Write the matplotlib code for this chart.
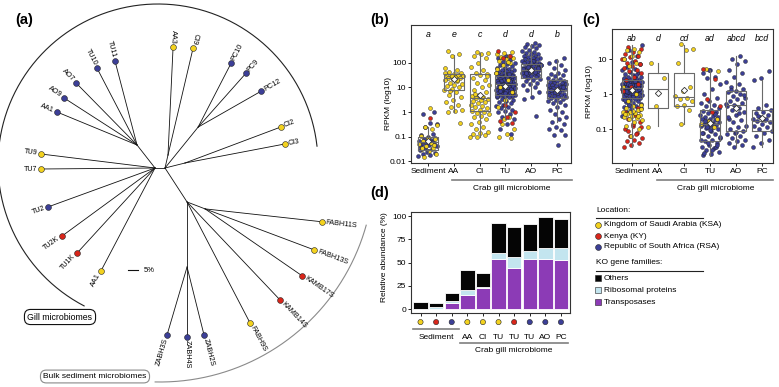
import numpy as np
import matplotlib.pyplot as plt
from matplotlib.ticker import NullLocator

plt.rcParams['font.family'] = ['Liberation Sans', 'DejaVu Sans']

W, H = 779, 387
fs = 6

# colours
loc_col = {'KSA': '#F3D21F', 'KY': '#D8261B', 'RSA': '#3C3F97'}
loc_names = ['Kingdom of Saudi Arabia (KSA)', 'Kenya (KY)', 'Republic of South Africa (RSA)']
loc_keys = ['KSA', 'KY', 'RSA']
fam_names = ['Others', 'Ribosomal proteins', 'Transposases']
fam_col = ['#050505', '#C3E5EF', '#8C3BB6']

# ---------------- tree (a): branch length (px) and direction (deg) ----------------
node_id = ['R', 'N1', 'AC', 'CIn', 'N3', 'N5', 'S1', 'Z',
           'AA1b', 'AO9', 'AO7', 'TU10', 'TU11', 'TU9', 'TU7', 'TU2', 'TU2K', 'TU1K', 'AA1y',
           'AA3', 'CI9', 'PC10', 'PC9', 'PC12', 'CI2', 'CI3',
           'FABH9S', 'KAMB14S', 'KAMB17S', 'FABH13S', 'FABH11S', 'ZABH3S', 'ZABH4S', 'ZABH2S']
node_parent = ['L', 'L', 'R', 'R', 'R', 'R', 'N5', 'N5',
               'N1', 'N1', 'N1', 'N1', 'N1', 'L', 'L', 'L', 'L', 'L', 'L',
               'AC', 'AC', 'N3', 'N3', 'N3', 'CIn', 'CIn',
               'N5', 'N5', 'S1', 'S1', 'S1', 'Z', 'Z', 'Z']
node_len = [10, 29.2, 13.3, 20.6, 52.6, 40.5, 19.3, 65,
            86.5, 86.8, 87, 86.8, 86.8, 114.9, 114, 113.9, 115.2, 115.4, 116.3,
            108.1, 109.9, 72, 72.2, 72.6, 102.5, 101.8,
            136.4, 135.1, 117.9, 116.5, 117.7, 70.9, 70, 70.1]
node_angle = [0, 128, 77, 14, 51, -57, -21, -90,
              157.6, 147.2, 134.5, 117.5, 104.7, 173, 180.5, 200, 216.2, 227.5, 242.3,
              87.3, 76.8, 62.7, 48.4, 29.7, 20.6, 10.8,
              -62.5, -46.5, -34.6, -20.6, -6.3, -106.4, -90, -76]
tip_label = {'AA1b': 'AA1', 'AA1y': 'AA1'}
tip_loc = {'AA1b': 'RSA', 'AO9': 'RSA', 'AO7': 'RSA', 'TU10': 'RSA', 'TU11': 'RSA',
           'TU9': 'KSA', 'TU7': 'KSA', 'TU2': 'RSA', 'TU2K': 'KY', 'TU1K': 'KY', 'AA1y': 'KSA',
           'AA3': 'KSA', 'CI9': 'KSA', 'PC10': 'RSA', 'PC9': 'RSA', 'PC12': 'RSA',
           'CI2': 'KSA', 'CI3': 'KSA', 'FABH9S': 'KSA', 'KAMB14S': 'KY', 'KAMB17S': 'KY',
           'FABH13S': 'KSA', 'FABH11S': 'KSA', 'ZABH3S': 'RSA', 'ZABH4S': 'RSA', 'ZABH2S': 'RSA'}

# ---------------- (b) RPKM, log10 values ----------------
cats = ['Sediment', 'AA', 'CI', 'TU', 'AO', 'PC']
sed_b_rsa = [-1.8, -1.75, -1.7, -1.66, -1.6, -1.55, -1.5, -1.46, -1.4, -1.36, -1.3, -1.28, -1.25,
             -1.2, -1.15, -1.1, -1.05, -1.0, -0.95, -0.9, -0.6, -0.5, -0.45, -0.1, 0.0, -1.62, -1.38, -1.22]
sed_b_ksa = [-1.82, -1.7, -1.6, -1.52, -1.45, -1.4, -1.32, -1.25, -1.18, -1.12, -1.05, -0.98,
             -0.7, -0.62, -0.55, 0.15, -1.48, -1.35]
sed_b_ky = [-0.25]
aa_b = [2.48, 2.35, 2.3, 1.8, 1.7, 1.62, 1.58, 1.55, 1.52, 1.5, 1.48, 1.45, 1.42, 1.4, 1.38, 1.35,
        1.3, 1.25, 1.2, 1.15, 1.1, 1.05, 1.0, 0.95, 0.9, 0.8, 0.7, 0.6, 0.5, 0.4, 0.3, 0.2, 0.1,
        0.05, 0.0, -0.45, 1.45, 1.6, 1.32, 0.85]
ci_b = [2.45, 2.4, 2.38, 2.3, 2.2, 2.0, 1.85, 1.7, 1.6, 1.55, 1.5, 1.4, 1.3, 1.2, 1.1, 1.0, 0.9,
        0.8, 0.7, 0.65, 0.6, 0.58, 0.55, 0.5, 0.45, 0.4, 0.35, 0.3, 0.25, 0.2, 0.15, 0.1, 0.05,
        0.0, -0.05, -0.1, -0.15, -0.2, -0.3, -0.4, -0.5, -0.6, -0.7, -0.8, -0.85, -0.9, -0.95,
        -1.0, -1.0, 0.62, 0.75, 1.45]
tu_b_rsa = [2.3, 2.2, 2.12, 2.05, 2.0, 1.95, 1.9, 1.86, 1.8, 1.78, 1.74, 1.72, 1.7, 1.67, 1.65,
            1.62, 1.6, 1.58, 1.55, 1.53, 1.5, 1.48, 1.46, 1.43, 1.42, 1.4, 1.38, 1.36, 1.33, 1.32,
            1.3, 1.28, 1.26, 1.24, 1.21, 1.2, 1.18, 1.16, 1.14, 1.12, 1.1, 1.08, 1.06, 1.04, 1.02,
            1.0, 0.98, 0.96, 0.94, 0.92, 0.9, 0.88, 0.86, 0.84, 0.82, 0.8, 0.78, 0.76, 0.74, 0.71,
            0.7, 0.68, 0.66, 0.63, 0.62, 0.6, 0.55, 0.5, 0.46, 0.4, 0.35, 0.3, 0.25, 0.2, 0.15,
            0.1, 0.04, 0.0, -0.1, -0.2, -0.3, -0.5, -0.7, -0.9, 1.15, 1.25, 1.35, 0.95, 1.05, 0.85,
            1.17, 1.27, 1.07, 0.97, 1.37, 0.87, 1.47, 0.77, 0.67, 1.57]
tu_b_ksa = [2.45, 2.4, 2.35, 2.3, 2.25, 2.2, 2.15, 2.1, 2.0, 1.9, 1.6, 1.3, 1.0, 0.8, 0.5, 0.2,
            -0.2, -0.5, -0.7, -0.9, -1.0, -1.05, -0.3, 1.75, 2.05]
tu_b_ky = [2.5, 2.3, 2.2, 0.0, -0.2, -0.35, -0.45, 0.3]
ao_b = [2.8, 2.78, 2.75, 2.7, 2.65, 2.6, 2.55, 2.5, 2.45, 2.4, 2.38, 2.35, 2.3, 2.28, 2.25, 2.22,
        2.2, 2.18, 2.15, 2.12, 2.1, 2.08, 2.05, 2.02, 2.0, 1.98, 1.95, 1.92, 1.9, 1.88, 1.85, 1.82,
        1.8, 1.78, 1.75, 1.72, 1.7, 1.68, 1.65, 1.62, 1.6, 1.58, 1.55, 1.52, 1.5, 1.48, 1.45, 1.42,
        1.4, 1.35, 1.3, 1.25, 1.2, 1.15, 1.1, 1.0, 0.9, 0.8, 0.6, 0.55, -0.15, 1.7, 1.9, 2.1, 1.6,
        1.8, 2.0, 1.75, 1.65, 1.85]
pc_b = [2.2, 2.1, 2.0, 1.9, 1.8, 1.7, 1.6, 1.55, 1.5, 1.45, 1.4, 1.35, 1.3, 1.28, 1.25, 1.22, 1.2,
        1.18, 1.15, 1.12, 1.1, 1.08, 1.05, 1.02, 1.0, 0.98, 0.95, 0.92, 0.9, 0.88, 0.85, 0.82, 0.8,
        0.78, 0.75, 0.72, 0.7, 0.68, 0.65, 0.62, 0.6, 0.58, 0.55, 0.5, 0.45, 0.4, 0.35, 0.3, 0.2,
        0.1, 0.0, -0.1, -0.2, -0.3, -0.4, -0.5, -0.6, -0.7, -0.75, -0.95, -0.95, -1.35, 0.9, 1.0,
        0.8, 1.1]
b_q1 = [0.027, 8, 1.1, 5, 25, 3.8]
b_med = [0.06, 25, 3.8, 14, 50, 8]
b_q3 = [0.1, 35, 35, 30, 95, 20]
b_lo = [0.016, 1.0, 0.1, 0.5, 5, 0.4]
b_hi = [0.25, 220, 250, 150, 600, 150]
b_mean = [0.065, 22, 5, 12, 50, 8]
b_letters = ['a', 'e', 'c', 'd', 'd', 'b']

# ---------------- (c) RPKM, log10 values ----------------
sed_c_rsa = [-0.62, -0.55, -0.5, -0.45, -0.42, -0.38, -0.35, -0.3, -0.28, -0.25, -0.22, -0.2,
             -0.18, -0.15, -0.13, -0.12, -0.1, -0.08, -0.06, -0.05, -0.03, -0.02, 0.0, 0.01, 0.02,
             0.03, 0.05, 0.06, 0.07, 0.08, 0.1, 0.11, 0.12, 0.13, 0.14, 0.15, 0.16, 0.17, 0.18,
             0.19, 0.2, 0.21, 0.22, 0.23, 0.24, 0.25, 0.26, 0.27, 0.28, 0.29, 0.3, 0.31, 0.32,
             0.33, 0.34, 0.35, 0.36, 0.38, 0.4, 0.42, 0.44, 0.46, 0.48, 0.5, 0.53, 0.56, 0.6,
             0.64, 0.68, 0.72, 0.78, 0.85, 0.92, 1.0, 1.1, 1.25, 1.4, 0.04, 0.09, 0.14, 0.18,
             0.22, 0.26, 0.3, 0.34, -0.07, -0.16, 0.12, 0.2, 0.28, 0.36, 0.05, 0.15, 0.25, 0.45,
             0.55, -0.32, -0.4, 0.02, 0.1, 0.19, 0.27]
sed_c_ky = [1.35, 1.3, 1.2, 1.15, 1.1, 1.05, 1.0, 0.95, 0.9, 0.85, 0.8, 0.75, 0.7, 0.65, 0.6, 0.5,
            0.4, 0.3, 0.2, 0.1, -0.6, -0.7, -0.8, -0.9, -1.0, -1.1, -1.2, -1.25, -1.3, -1.35, -1.4,
            -1.45, -1.5, -1.15, -1.05, -0.95, -0.85, -0.5, -0.4]
sed_c_ksa = [1.3, 1.25, 1.2, 1.1, 1.0, 0.9, 0.8, -0.3, -0.35, -0.4, -0.45, -0.5, -0.52, -0.55,
             -0.58, -0.6, -0.62, -0.65, -0.68, -0.7, -0.75, -0.8, -0.9, -1.0, -1.2, 0.2, 0.0,
             -0.2, -0.42, -0.48, -0.56, -0.63]
aa_c = [0.88, 0.45, -0.35, -0.93]
ci_c = [1.42, 1.3, 1.25, 0.9, 0.2, 0.1, -0.05, -0.1, -0.15, -0.2, -0.3, -0.35, -0.45, -0.85]
tu_c_rsa = [0.68, 0.6, 0.5, 0.45, 0.3, 0.15, 0.0, -0.1, -0.2, -0.25, -0.3, -0.35, -0.4, -0.45,
            -0.48, -0.5, -0.55, -0.6, -0.62, -0.65, -0.68, -0.7, -0.72, -0.75, -0.78, -0.8, -0.82,
            -0.85, -0.88, -0.9, -0.92, -0.95, -0.98, -1.0, -1.05, -1.1, -1.15, -1.2, -1.25, -1.3,
            -1.35, -1.4, -1.45, -1.5, -1.55, -1.6, -1.65, -1.7, -1.75, -1.5, -1.4, -1.3, -0.87,
            -0.77, -0.67, -1.02, -1.12, -0.57, -0.93, -1.22, -1.6, -1.68, -1.45, 0.7]
tu_c_ksa = [-0.7, -0.78, -0.85, -0.95, 0.72, 0.65]
tu_c_ky = [0.72, 0.42, -0.15, -0.35, -0.5]
ao_c = [1.08, 1.0, 0.95, 0.85, 0.7, 0.6, 0.5, 0.35, 0.3, 0.2, 0.15, 0.1, 0.05, 0.0, -0.05, -0.1,
        -0.15, -0.2, -0.25, -0.3, -0.35, -0.4, -0.45, -0.5, -0.6, -0.7, -0.75, -0.8, -0.9, -0.95,
        -1.0, -1.05, -1.1, -1.15, -1.2, -1.25, -1.3, -1.35, -1.4, -1.45, -1.5, -0.28, -0.55, 0.12,
        -0.02, -1.08, -0.65]
pc_c = [0.65, 0.45, 0.4, -0.3, -0.4, -0.45, -0.5, -0.55, -0.6, -0.65, -0.7, -0.75, -0.78, -0.8,
        -0.85, -0.9, -0.95, -1.0, -1.05, -1.1, -1.2, -1.3, -1.4, -1.5, -0.72, -0.62]
c_q1 = [0.75, 0.4, 0.45, 0.045, 0.09, 0.09]
c_med = [1.5, 1.4, 0.8, 0.14, 0.5, 0.17]
c_q3 = [2.5, 4.0, 4.0, 0.35, 1.2, 0.35]
c_lo = [0.03, 0.12, 0.14, 0.017, 0.03, 0.03]
c_hi = [25, 7.5, 25, 5, 12, 2.5]
c_mean = [1.3, 1.1, 1.3, 0.15, 0.4, 0.2]
c_letters = ['ab', 'd', 'cd', 'ad', 'abcd', 'bcd']

# ---------------- (d) relative abundance (%) ----------------
d_groups = ['Sediment', 'Sediment', 'Sediment', 'AA', 'CI', 'TU', 'TU', 'TU', 'AO', 'PC']
d_loc = ['KSA', 'KY', 'RSA', 'KSA', 'KSA', 'KSA', 'KY', 'RSA', 'RSA', 'RSA']
d_trans = [0, 0.3, 7.1, 15.4, 23.2, 54.3, 44.3, 54.3, 54.3, 53.2]
d_ribo = [0.5, 2.0, 1.5, 5.6, 1.0, 6.4, 12.1, 8.2, 11.7, 12.2]
d_others = [7.5, 4.8, 8.4, 21.0, 14.4, 31.3, 31.6, 28.5, 32.6, 31.6]

fig = plt.figure(figsize=(W / 100, H / 100), dpi=100)

# overlay in pixel coordinates
ov = fig.add_axes([0, 0, 1, 1])
ov.set_xlim(0, W)
ov.set_ylim(H, 0)
ov.axis('off')

# tree
root = (155.0, 168.0)
pos = {'L': root}
for nid, par, ln, ang in zip(node_id, node_parent, node_len, node_angle):
    px, py = pos[par]
    a = np.radians(ang)
    x, y = px + ln * np.cos(a), py - ln * np.sin(a)
    pos[nid] = (x, y)
    ov.plot([px, x], [py, y], color='#111111', lw=0.6, zorder=2)
    if nid in tip_loc:
        ov.plot(x, y, 'o', ms=4.2, mfc=loc_col[tip_loc[nid]], mec='#222222', mew=0.4, zorder=3)
        am = ang % 360
        flip = 70 < am < 268
        rot = am - 180 if flip else am
        tx, ty = x + 3.5 * np.cos(a), y - 3.5 * np.sin(a)
        ov.text(tx, ty, tip_label.get(nid, nid), fontsize=5.2, rotation=rot,
                rotation_mode='anchor', ha='right' if flip else 'left', va='center')

# group arcs
t = np.radians(np.linspace(6.4, 242.5, 300))
ov.plot(158 + 160 * np.cos(t), 164 - 160 * np.sin(t), color='#222222', lw=0.8)
t = np.radians(np.linspace(-91.3, -15.5, 200))
ov.plot(160 + 214 * np.cos(t), 168 - 214 * np.sin(t), color='#8a8a8a', lw=0.8)
ov.text(60, 317, 'Gill microbiomes', fontsize=6.3, ha='center', va='center',
        bbox=dict(boxstyle='round,pad=0.35,rounding_size=0.7', fc='white', ec='#111111', lw=0.8))
ov.text(95, 376.5, 'Bulk sediment microbiomes', fontsize=6, ha='center', va='center',
        bbox=dict(boxstyle='round,pad=0.35,rounding_size=0.7', fc='white', ec='#8a8a8a', lw=0.8))
ov.plot([128, 138], [270, 270], color='#111111', lw=0.8)
ov.text(144, 270, '5%', fontsize=5.5, va='center')

# panel letters
for lab, x, y in [('(a)', 24, 20), ('(b)', 380, 20), ('(c)', 591, 20), ('(d)', 380, 193)]:
    ov.text(x, y, lab, fontsize=10.5, fontweight='bold', ha='center', va='center')

# legend for (d)
ov.text(596, 211, 'Location:', fontsize=fs, va='center')
ov.plot([596, 703], [218, 218], color='#222222', lw=0.8)
for k, (key, name) in enumerate(zip(loc_keys, loc_names)):
    yy = 225 + 11 * k
    ov.plot(598.5, yy, 'o', ms=4.2, mfc=loc_col[key], mec='#222222', mew=0.4)
    ov.text(604, yy, name, fontsize=fs, va='center')
ov.text(596, 263, 'KO gene families:', fontsize=fs, va='center')
ov.plot([596, 703], [271, 271], color='#222222', lw=0.8)
for k, (name, col) in enumerate(zip(fam_names, fam_col)):
    yy = 278 + 12 * k
    ov.plot(598.5, yy, 's', ms=4.2, mfc=col, mec='#222222', mew=0.4)
    ov.text(604, yy, name, fontsize=fs, va='center')


def jitter(n, shift, width):
    return ((np.arange(n) * 0.618034 + shift) % 1 - 0.5) * width


def rpkm_panel(ax, groups, q1, med, q3, lo, hi, mean, letters, ylim, yt, ytl, jw):
    for i, grp in enumerate(groups):
        for k, (key, vals) in enumerate(grp):
            v = np.array(vals)
            ax.scatter(i + jitter(len(v), 0.31 * k + 0.17 * i, jw), 10 ** v, s=8,
                       c=loc_col[key], edgecolors='#1a1a1a', linewidths=0.3, zorder=2)
    stats = [dict(q1=a, med=b, q3=c, whislo=d, whishi=e, mean=f, fliers=[])
             for a, b, c, d, e, f in zip(q1, med, q3, lo, hi, mean)]
    ax.bxp(stats, positions=range(len(stats)), widths=0.78, showmeans=True, showcaps=False,
           boxprops=dict(color='#6a6a6a', lw=0.8), whiskerprops=dict(color='#6a6a6a', lw=0.8),
           medianprops=dict(color='#6a6a6a', lw=0.8),
           meanprops=dict(marker='D', mfc='white', mec='#333333', mew=0.6, ms=3.2), zorder=3)
    ax.set_yscale('log')
    ax.set_ylim(*ylim)
    ax.set_yticks(yt)
    ax.set_yticklabels(ytl)
    ax.yaxis.set_minor_locator(NullLocator())
    ax.set_xticks(range(len(cats)))
    ax.set_xticklabels(cats)
    tr = ax.get_xaxis_transform()
    for i, let in enumerate(letters):
        ax.text(i, 0.93, let, transform=tr, ha='center', va='center', fontsize=6.3, style='italic')
    ax.set_ylabel('RPKM (log10)', fontsize=fs)
    ax.tick_params(labelsize=fs, length=2, width=0.6, pad=1.5)
    for s in ax.spines.values():
        s.set_linewidth(0.8)
        s.set_color('#333333')


# (b)
ax_b = fig.add_axes([411 / W, 1 - 163 / H, 160 / W, 138 / H])
b_groups = [[('RSA', sed_b_rsa), ('KSA', sed_b_ksa), ('KY', sed_b_ky)],
            [('KSA', aa_b)], [('KSA', ci_b)],
            [('RSA', tu_b_rsa), ('KSA', tu_b_ksa), ('KY', tu_b_ky)],
            [('RSA', ao_b)], [('RSA', pc_b)]]
rpkm_panel(ax_b, b_groups, b_q1, b_med, b_q3, b_lo, b_hi, b_mean, b_letters,
           (0.0083, 3550), [0.01, 0.1, 1, 10, 100], ['0.01', '0.1', '1', '10', '100'], 0.74)
ax_b.set_xlim(-0.66, 5.54)
ax_b.yaxis.set_label_coords(-0.12, 0.43)
tr = ax_b.get_xaxis_transform()
ax_b.plot([0.93, 5.58], [-0.123, -0.123], color='#7f7f7f', lw=1.2, transform=tr, clip_on=False)
ax_b.text(3.26, -0.182, 'Crab gill microbiome', transform=tr, ha='center', va='center', fontsize=fs)

# (c)
ax_c = fig.add_axes([612 / W, 1 - 163 / H, 161 / W, 134 / H])
c_groups = [[('RSA', sed_c_rsa), ('KY', sed_c_ky), ('KSA', sed_c_ksa)],
            [('KSA', aa_c)], [('KSA', ci_c)],
            [('RSA', tu_c_rsa), ('KSA', tu_c_ksa), ('KY', tu_c_ky)],
            [('RSA', ao_c)], [('RSA', pc_c)]]
rpkm_panel(ax_c, c_groups, c_q1, c_med, c_q3, c_lo, c_hi, c_mean, c_letters,
           (0.0107, 72), [0.1, 1, 10], ['0.1', '1', '10'], 0.78)
ax_c.set_xlim(-0.77, 5.42)
ax_c.yaxis.set_label_coords(-0.118, 0.53)
tr = ax_c.get_xaxis_transform()
ax_c.plot([0.96, 5.42], [-0.127, -0.127], color='#7f7f7f', lw=1.2, transform=tr, clip_on=False)
ax_c.text(3.2, -0.188, 'Crab gill microbiome', transform=tr, ha='center', va='center', fontsize=fs)

# (d)
ax_d = fig.add_axes([411 / W, 1 - 313 / H, 159 / W, 101 / H])
x = np.arange(len(d_trans))
ax_d.bar(x, d_trans, width=0.92, color=fam_col[2], edgecolor='white', lw=0.6)
ax_d.bar(x, d_ribo, bottom=d_trans, width=0.92, color=fam_col[1], edgecolor='white', lw=0.6)
ax_d.bar(x, d_others, bottom=np.add(d_trans, d_ribo), width=0.92, color=fam_col[0],
         edgecolor='white', lw=0.6)
ax_d.set_xlim(-0.61, 9.58)
ax_d.set_ylim(-4, 104.3)
ax_d.set_yticks([0, 25, 50, 75, 100])
ax_d.set_xticks(x)
ax_d.set_xticklabels([])
ax_d.tick_params(labelsize=fs, length=2, width=0.6, pad=1.5)
ax_d.set_ylabel('Relative abundance (%)', fontsize=fs)
ax_d.yaxis.set_label_coords(-0.145, 0.55)
for s in ax_d.spines.values():
    s.set_linewidth(0.8)
    s.set_color('#333333')
tr = ax_d.get_xaxis_transform()
ax_d.scatter(x, np.full(len(x), -0.09), s=14, c=[loc_col[k] for k in d_loc],
             edgecolors='#222222', linewidths=0.4, transform=tr, clip_on=False)
sed_idx = [i for i, g in enumerate(d_groups) if g == 'Sediment']
gill_idx = [i for i, g in enumerate(d_groups) if g != 'Sediment']
ax_d.text(np.mean(sed_idx), -0.238, 'Sediment', transform=tr, ha='center', va='center', fontsize=fs)
for i in gill_idx:
    ax_d.text(i, -0.238, d_groups[i], transform=tr, ha='center', va='center', fontsize=fs)
ax_d.plot([sed_idx[0] - 0.48, sed_idx[-1] + 0.45], [-0.158, -0.158], color='#7f7f7f', lw=1.2,
          transform=tr, clip_on=False)
ax_d.plot([gill_idx[0] - 0.47, gill_idx[-1] + 0.45], [-0.297, -0.297], color='#7f7f7f', lw=1.2,
          transform=tr, clip_on=False)
ax_d.text(np.mean([gill_idx[0], gill_idx[-1]]), -0.37, 'Crab gill microbiome', transform=tr,
          ha='center', va='center', fontsize=fs)

plt.savefig('out.png', dpi=100)
